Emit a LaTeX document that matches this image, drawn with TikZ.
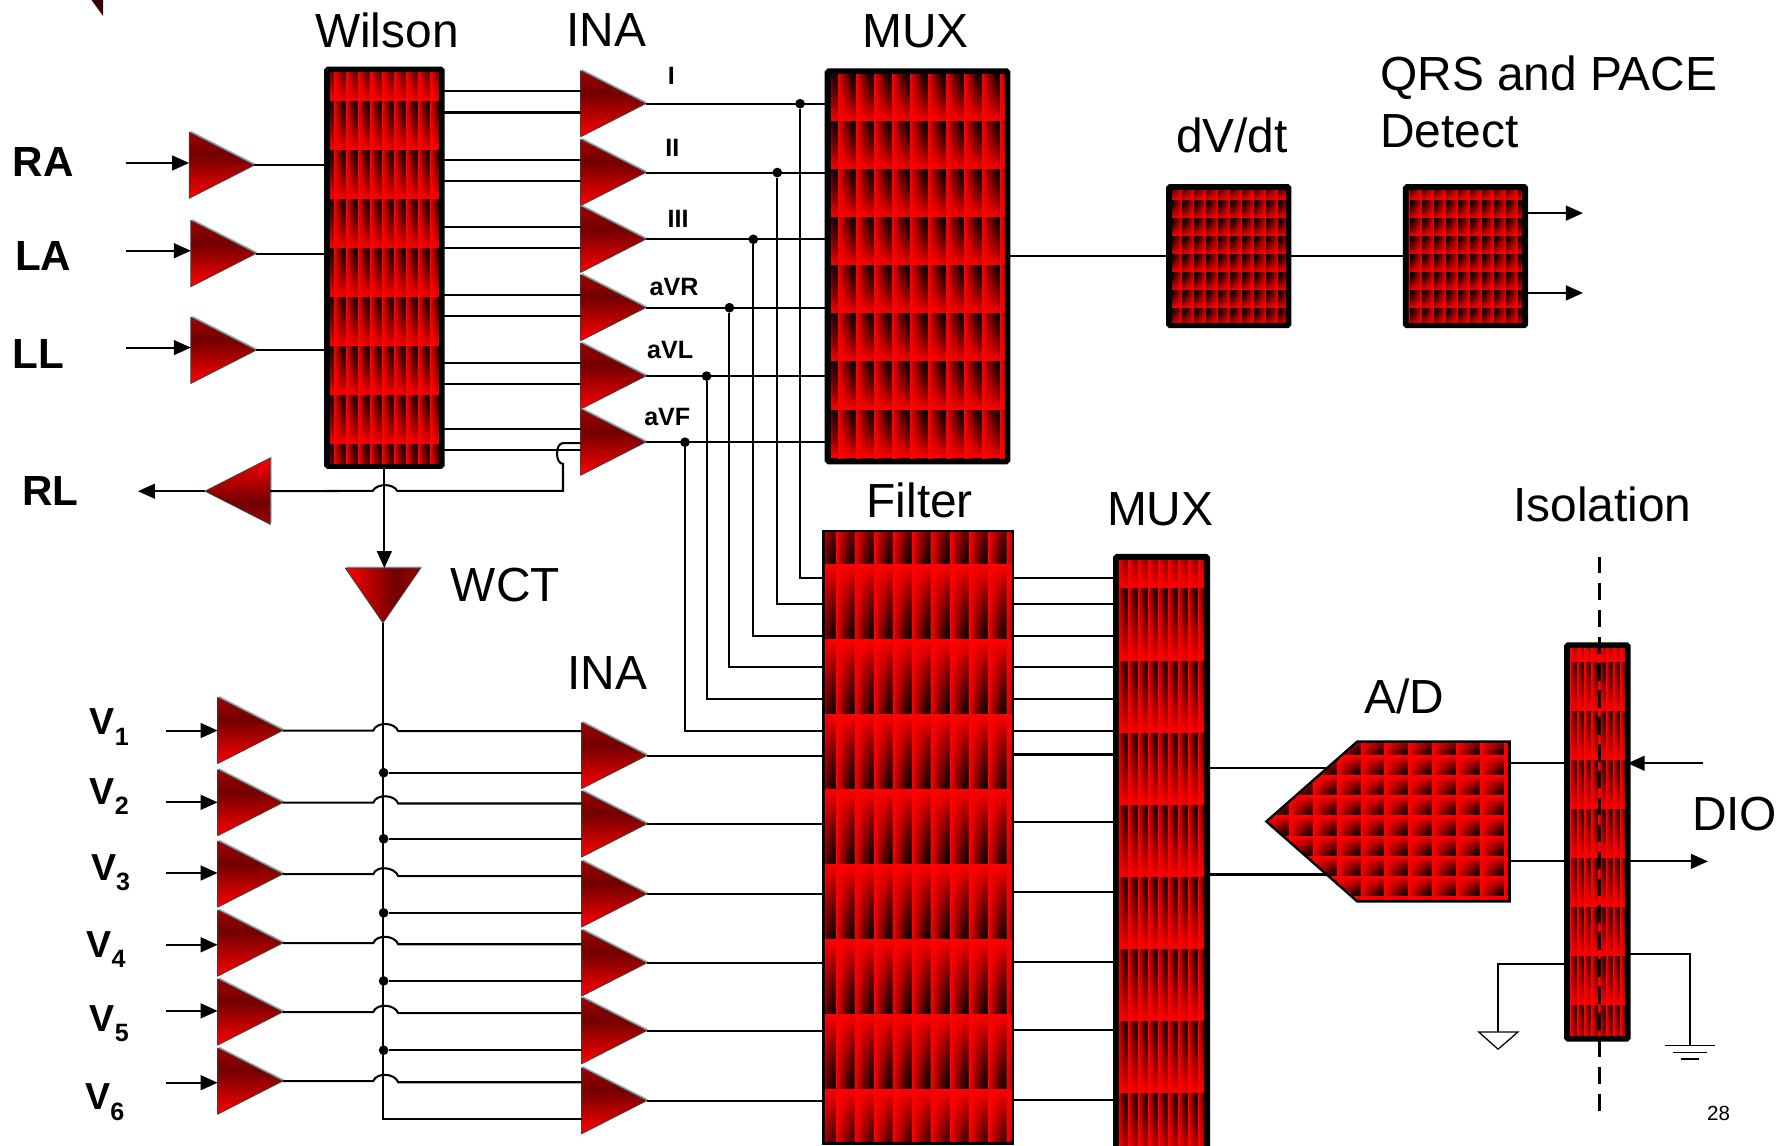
\documentclass[tikz,border=0pt]{standalone}
\usepackage{fontspec}
\setmainfont{Liberation Sans}
\usepackage{tikz}
\usetikzlibrary{positioning, arrows.meta, shapes.geometric, shapes.symbols, shadows}

\pgfdeclareverticalshading{ampshade}{100bp}{rgb(0bp)=(1,0,0); rgb(25bp)=(1,0,0); rgb(58bp)=(.45,0,0); rgb(75bp)=(.62,0,0); rgb(100bp)=(.62,0,0)}
\pgfdeclarefunctionalshading{cellup}{\pgfpointorigin}{\pgfpoint{100bp}{100bp}}{}{25 sub 50 div exch 25 sub 50 div mul 1 exch sub abs dup sqrt mul 0 0}
\pgfdeclarefunctionalshading{celldown}{\pgfpointorigin}{\pgfpoint{100bp}{100bp}}{}{25 sub 50 div 1 exch sub exch 25 sub 50 div mul 1 exch sub abs dup sqrt mul 0 0}
\pgfdeclarefunctionalshading{cellleft}{\pgfpointorigin}{\pgfpoint{100bp}{100bp}}{}{25 sub 50 div exch 25 sub 50 div 1 exch sub mul 1 exch sub abs dup sqrt mul 0 0}

% shading, inner box, first cell corner, cell size
\newcommand\CellGrid[9]{%
  \begin{scope}
    \clip (#2,#3) rectangle (#4,#5);
    \pgfmathtruncatemacro\nx{ceil((#4-#6)/#8)}
    \pgfmathtruncatemacro\ny{ceil((#5-#7)/#9)}
    \foreach \i in {0,...,\nx}{
      \foreach \j in {0,...,\ny}{
        \shade[shading=#1] ({#6+\i*#8},{#7+\j*#9}) rectangle +(#8,#9);
      }
    }
  \end{scope}}

\tikzset{
  amp/.style={isosceles triangle, isosceles triangle stretches, shape border rotate=0, minimum width=58, minimum height=57, inner sep=0, outer sep=0, anchor=apex, draw=black!75, line width=0.7, shading=ampshade, general shadow={shadow xshift=1.3, shadow yshift=-1.3, fill=gray!70}},
  cellbox/.style={rectangle, draw, anchor=north west, inner sep=0, outer sep=0, rounded corners=1, line width=5.4},
  wire/.style={line width=1.8},
  arrowwire/.style={line width=1.8, -{Triangle[length=15pt,width=13pt]}},
  wiredot/.style={circle, fill, inner sep=0, minimum size=8.5},
  title/.style={font=\fontsize{42}{42}\selectfont, inner sep=0},
  lead/.style={font=\fontsize{37}{37}\selectfont\bfseries, inner sep=0},
  tag/.style={font=\fontsize{22}{22}\selectfont\bfseries, inner sep=0}
}

\begin{document}
\begin{tikzpicture}[x=1pt, y=-1pt]
  \useasboundingbox (0,0) rectangle (1568,1004.7);
  \fill[black!60!red!55!black] (80.3,0) -- (90.4,0) -- (90.4,14) -- cycle;

  % boxes
  \node[cellbox, minimum width=100.5, minimum height=347.5] at (287,61.2) (wilson) {};
  \node[cellbox, minimum width=157.5, minimum height=342] at (726.3,62.7) (mux) {};
  \node[cellbox, minimum width=104.5, minimum height=121] at (1025.9,164.3) (dvdt) {};
  \node[cellbox, minimum width=104.5, minimum height=121] at (1233.7,164.3) (detect) {};
  \node[cellbox, line width=2.6, rounded corners=0, minimum width=166, minimum height=537] at (722.7,466.2) (filter) {};
  \node[cellbox, minimum width=79.6, minimum height=530] at (979.4,488.7) (muxb) {};
  \node[cellbox, minimum width=53, minimum height=345] at (1375.1,566.3) (iso) {};
  \node[signal, signal to=west, signal from=nowhere, signal pointer angle=82.7, draw, inner sep=0, outer sep=0, anchor=east, line width=2.5, minimum width=212.9, minimum height=140] at (1324.4,720.8) (adc) {};

  % amplifiers of the limb leads
  \foreach \n/\x/\y in {ra/223/145, la/224.5/222.5, ll/224.5/307.4}{
    \node[amp] at (\x,\y) (\n) {};
    \draw[wire] (\n.apex) -- (wilson.west |- \n.apex);
  }
  \draw[arrowwire] (110.5,143) -- (ra.lower side |- 0,143);
  \draw[arrowwire] (110.8,220) -- (la.lower side |- 0,220);
  \draw[arrowwire] (110.8,305) -- (ll.lower side |- 0,305);

  % upper INA row
  \foreach \k/\y/\a/\b/\x/\yf in {1/91/80/98.7/702/507, 2/151.4/140/159/682/530, 3/210/199/217.5/661/558, 4/270/259/277.6/640/585.5, 5/330/318.6/337/620/613.5, 6/388/376/395/601/641}{
    \node[amp] at (566.5,\y) (ina\k) {};
    \draw[wire] (wilson.east |- 0,\a) -- (ina\k.lower side |- 0,\a);
    \draw[wire] (wilson.east |- 0,\b) -- (ina\k.lower side |- 0,\b);
    \draw[wire] (ina\k.apex) -- (mux.west |- ina\k.apex);
    \node[wiredot] at (\x,\y) (dot\k) {};
    \draw[wire] (dot\k) |- (filter.west |- 0,\yf);
    \draw[wire] (filter.east |- 0,\yf) -- (muxb.west |- 0,\yf);
  }

  % right leg drive
  \node[amp, shape border rotate=180, shading angle=180] at (180,431) (rl) {};
  \draw[arrowwire] (rl.apex) -- (121,431) coordinate (rlend);
  \draw[wire] (ina6.lower side |- 0,388.8) -- (494,388.8) .. controls (487,388.8) and (487,407) .. (494,407) -- (494,430.7) -- (348.5,430.7) .. controls (345,424) and (331,424) .. (327,430.7) -- (rl.lower side);

  % WCT
  \node[amp, shape border rotate=-90, shading angle=-90, minimum width=66, minimum height=48] at (336,546.5) (wct) {};
  \draw[arrowwire] (wilson.south) -- (wilson.south |- wct.lower side);

  % chest leads
  \foreach \k/\y/\yin/\a/\b/\yb/\yo in {1/663/641/641.5/678/641/662, 2/723/704/705/736/704.3/721.5, 3/784.4/766/768.7/801/767/783, 4/845/829/828.5/860.7/827.5/844, 5/904.4/887/889/921.5/888/904, 6/965.8/950/949.6/982/948.6/965}{
    \node[amp] at (248,\yb) (v\k) {};
    \node[amp] at (567.4,\y) (inb\k) {};
    \draw[arrowwire] (146,\yin) -- (v\k.lower side |- 0,\yin);
    \draw[wire] (v\k.apex) -- (327.5,\yb) .. controls +(3,-8) and +(-3,-8) .. (349.4,\a) -- (inb\k.lower side |- 0,\a);
    \draw[wire] (inb\k.apex) -- (filter.west |- inb\k.apex);
    \draw[wire] (filter.east |- 0,\yo) -- (muxb.west |- 0,\yo);
  }
  \foreach \k/\y in {1/678, 2/736, 3/801, 4/860.7, 5/921.5}{
    \node[wiredot] at (336.6,\y) (cm\k) {};
    \draw[wire] (cm\k) -- (inb\k.lower side |- cm\k);
  }
  \draw[wire] (wct.apex) |- (inb6.lower side |- 0,982);

  % upper right
  \draw[wire] (mux.east |- 0,224.6) -- (dvdt.west |- 0,224.6);
  \draw[wire] (dvdt.east |- 0,224.6) -- (detect.west |- 0,224.6);
  \draw[arrowwire] (detect.east |- 0,187) -- (1389,187);
  \draw[arrowwire] (detect.east |- 0,257) -- (1389,257);

  % A/D and isolation
  \draw[wire] (muxb.east |- 0,674) -- (adc.center |- 0,674);
  \draw[wire] (muxb.east |- 0,767.3) -- (adc.center |- 0,767.3);
  \draw[wire] (adc.east |- 0,669.7) -- (iso.west |- 0,669.7);
  \draw[wire] (adc.east |- 0,755.8) -- (iso.west |- 0,755.8);
  \draw[arrowwire] (1494.6,669.7) -- (iso.east |- 0,669.7);
  \draw[arrowwire] (iso.east |- 0,755.8) -- (1498.6,755.8);

  % grounds
  \draw[line width=1.4] (iso.west |- 0,846) -| (1314.5,905.6) coordinate (gnda);
  \draw[line width=1.1, fill=white] (1297.6,905.6) -- (1331.8,905.6) -- (1314.5,920.6) -- cycle;
  \draw[line width=1.4] (iso.east |- 0,837) -| (1483,917.5) coordinate (gndb);
  \draw[line width=1.4] (1461,917.5) -- (1505,917.5) (1468,923.6) -- (1498,923.6) (1475,929.4) -- (1491,929.4);

  % cell fills
  \CellGrid{cellup}{289.5}{63.8}{385.1}{406.5}{282.5}{46.2}{10.53}{43}
  \CellGrid{cellup}{729}{65.3}{881.2}{402.1}{719.5}{64.7}{15.8}{42.15}
  \CellGrid{cellleft}{1028.5}{166.9}{1127.8}{282.7}{1027.2}{160.2}{10.5}{15.8}
  \CellGrid{cellleft}{1236.3}{166.9}{1335.6}{282.7}{1226.9}{160.2}{10.5}{15.8}
  \CellGrid{celldown}{724}{467.5}{887.4}{1001.9}{716.83}{429.95}{16.67}{65.75}
  \CellGrid{cellup}{982.1}{491.4}{1056.3}{1008}{980.93}{453.6}{8.77}{63.2}
  \CellGrid{cellup}{1377.8}{569}{1425.4}{908.6}{1371.3}{537.9}{6.3}{43}
  \begin{scope}
    \clip (1113,720.8) -- (1191.5,652) -- (1323.3,652) -- (1323.3,789.6) -- (1191.5,789.6) -- cycle;
    \CellGrid{celldown}{1105}{645}{1330}{795}{1110}{645.35}{21}{17.65}
  \end{scope}

  % isolation barrier
  \draw[line width=2.2, dash pattern=on 15.3pt off 8.3pt] (1403.4,975) -- (1403.4,489);

  % labels
  \node[lead] at (38,142) (lra) {RA};
  \node[lead] at (38,225) (lla) {LA};
  \node[lead] at (34,311) (lll) {LL};
  \node[lead] at (44,431) (lrl) {RL};
  \foreach \n/\x/\y/\t in {li/589/67/I, lii/590/130/II, liii/595/192/III, lavr/591.5/252/aVR, lavl/588/307/aVL, lavf/585.5/366/aVF}{
    \node[tag] at (\x,\y) (\n) {\t};
  }
  \foreach \k/\x/\y in {1/96/638, 2/96/699, 3/97/766, 4/93/833, 5/96/898, 6/92/967}{
    \node[font=\fontsize{33}{33}\selectfont\bfseries, inner sep=0] at (\x,\y) (lv\k) {V\raisebox{-9pt}{\fontsize{22}{22}\selectfont\bfseries\k}};
  }
  \node[title] at (339.5,27) (lwilson) {Wilson};
  \node[title] at (532,26) (lina) {INA};
  \node[title] at (803.5,27) (lmux) {MUX};
  \node[title] at (1081,118.5) (ldvdt) {dV/dt};
  \node[title, anchor=west, align=left] at (1211,89) (lqrs) {QRS and PACE\\[8pt]Detect};
  \node[title] at (807,439) (lfilter) {Filter};
  \node[title] at (1018,447) (lmuxb) {MUX};
  \node[title] at (1406,443) (liso) {Isolation};
  \node[title] at (443.5,513) (lwct) {WCT};
  \node[title] at (533,590.5) (linb) {INA};
  \node[title] at (1232,611) (lad) {A/D};
  \node[title] at (1522,714) (ldio) {DIO};
  \node[font=\fontsize{18}{18}\selectfont, inner sep=0] at (1508,977) (lpage) {28};
\end{tikzpicture}
\end{document}
